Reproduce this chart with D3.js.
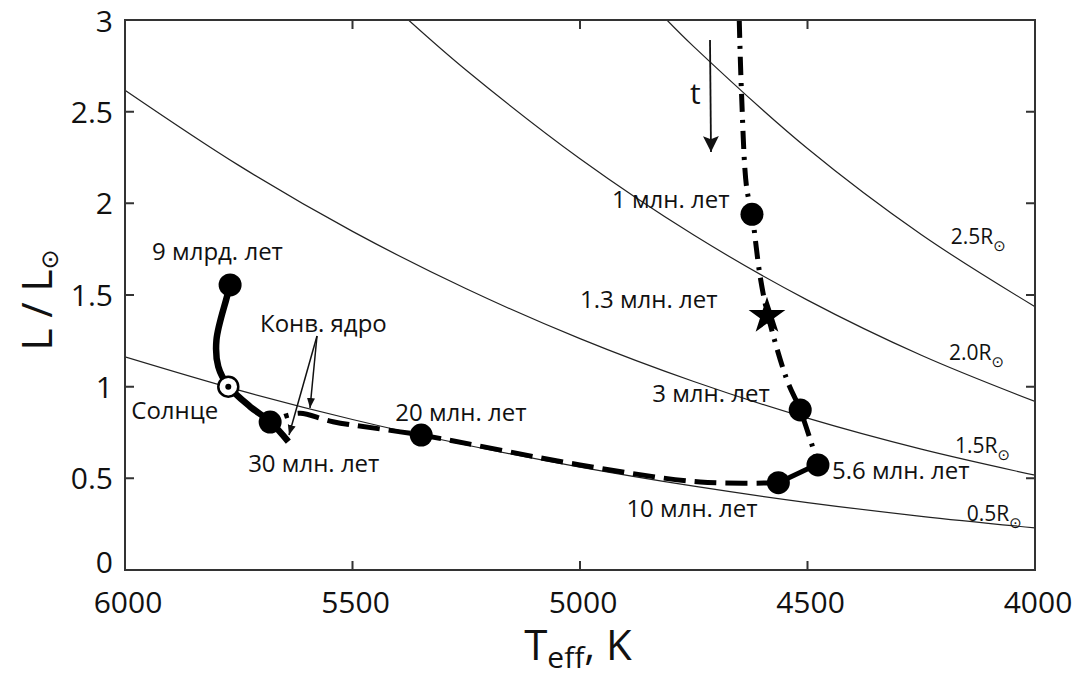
<!DOCTYPE html>
<html>
<head>
<meta charset="utf-8">
<script src="https://cdn.jsdelivr.net/npm/d3@7"></script>
<style>
  body { margin: 0; background: #fff; }
  text { font-family: "Open Sans", "DejaVu Sans", sans-serif; fill: #111; }
</style>
</head>
<body>
<div id="chart"></div>
<script>
// axis ticks
var xTicks = [6000, 5500, 5000, 4500, 4000];
var yTicks = [0, 0.5, 1, 1.5, 2, 2.5, 3];

// iso-radius lines: [Teff, L]
var radiusLabels = ["0.5R", "1.5R", "2.0R", "2.5R"];
var radiusLines = [
  [[6000,1.163],[5750,0.981],[5500,0.821],[5250,0.682],[5000,0.561],[4750,0.457],[4500,0.368],[4250,0.293],[4000,0.230]],
  [[6000,2.617],[5750,2.207],[5500,1.847],[5250,1.534],[5000,1.262],[4750,1.028],[4500,0.828],[4250,0.659],[4000,0.517]],
  [[5377,3.0],[5250,2.726],[5000,2.243],[4750,1.827],[4500,1.472],[4250,1.171],[4000,0.919]],
  [[4809,3.0],[4750,2.855],[4500,2.299],[4250,1.830],[4000,1.436]]
];
var radiusLabelPos = [[4029,0.267], [4055,0.638], [4068,1.146], [4064,1.778]];

// track pieces
var trackDashDot = [[4650,3.0],[4645,2.60],[4634,2.09],[4622,1.94],[4604,1.60],[4587,1.39],[4545,1.036],[4516,0.873],[4477,0.578]];
var trackSolidShort = [[4477,0.578],[4564,0.476]];
var trackDashed = [[4564,0.476],[4736,0.48],[5000,0.573],[5349,0.736],[5543,0.809],[5615,0.855],[5650,0.838]];
var trackSolid = [[5769,1.555],[5776,1.49],[5799,1.255],[5795,1.109],[5773,1.004],[5725,0.891],[5681,0.809],[5641,0.70]];

// marked ages
var dots = [
  {T:4622, L:1.94, label:"1 млн. лет"},
  {T:4516, L:0.873, label:"3 млн. лет"},
  {T:4477, L:0.573, label:"5.6 млн. лет"},
  {T:4564, L:0.476, label:"10 млн. лет"},
  {T:5349, L:0.736, label:"20 млн. лет"},
  {T:5681, L:0.807, label:"30 млн. лет"},
  {T:5769, L:1.555, label:"9 млрд. лет"}
];
var labelOffsets = [[-140,-6],[-148,-8],[14,14],[-152,34],[-26,-14],[-22,50],[-78,-25]];
var starPoint = {T:4589, L:1.396, label:"1.3 млн. лет"};
var sunPoint = {T:5773, L:1.0, label:"Солнце"};

var W = 1081, H = 680;
var margin = {top: 20, right: 46, bottom: 110, left: 125};
var width = W - margin.left - margin.right,
    height = H - margin.top - margin.bottom;

var svg = d3.select("#chart").append("svg")
  .attr("width", W).attr("height", H);

var g = svg.append("g")
  .attr("transform", "translate(" + margin.left + "," + margin.top + ")");

var x = d3.scaleLinear().domain([6000, 4000]).range([0, width]);
var y = d3.scaleLinear().domain([0, 3]).range([height, 0]);

svg.append("defs").append("clipPath").attr("id", "clip")
  .append("rect").attr("width", width).attr("height", height);
var defs = svg.select("defs");
defs.append("marker").attr("id", "arr")
  .attr("viewBox", "0 0 10 10").attr("refX", 10).attr("refY", 5)
  .attr("markerWidth", 10).attr("markerHeight", 10)
  .attr("markerUnits", "userSpaceOnUse")
  .attr("orient", "auto")
  .append("path").attr("d", "M0,1 L10,5 L0,9 Z").attr("fill", "#111");
defs.append("marker").attr("id", "arrBig")
  .attr("viewBox", "0 0 10 10").attr("refX", 10).attr("refY", 5)
  .attr("markerWidth", 34).attr("markerHeight", 16)
  .attr("markerUnits", "userSpaceOnUse")
  .attr("orient", "auto")
  .append("path").attr("d", "M0,0 L10,5 L0,10 L2,5 Z").attr("fill", "#111");

var line = d3.line()
  .x(function(d) { return x(d[0]); })
  .y(function(d) { return y(d[1]); })
  .curve(d3.curveCatmullRom);

var plot = g.append("g").attr("clip-path", "url(#clip)");

// iso-radius curves
plot.selectAll(".rline").data(radiusLines).enter().append("path")
  .attr("d", line)
  .attr("fill", "none").attr("stroke", "#222").attr("stroke-width", 1.2);

// tracks
plot.append("path").datum(trackDashDot).attr("d", line)
  .attr("fill", "none").attr("stroke", "#000").attr("stroke-width", 5)
  .attr("stroke-dasharray", "18,8,3,8");
plot.append("path").datum(trackSolidShort).attr("d", line)
  .attr("fill", "none").attr("stroke", "#000").attr("stroke-width", 5);
plot.append("path").datum(trackDashed).attr("d", line)
  .attr("fill", "none").attr("stroke", "#000").attr("stroke-width", 5)
  .attr("stroke-dasharray", "22,9");
plot.append("path").datum(trackSolid).attr("d", line)
  .attr("fill", "none").attr("stroke", "#000").attr("stroke-width", 6.5);

// frame and ticks
g.append("rect").attr("width", width).attr("height", height)
  .attr("fill", "none").attr("stroke", "#333").attr("stroke-width", 2);
var tl = 9;
g.selectAll(".xt").data(xTicks.slice(1, -1)).enter().append("path")
  .attr("d", function(d) { return "M" + x(d) + "," + height + "v" + (-tl) + "M" + x(d) + ",0v" + tl; })
  .attr("stroke", "#333").attr("stroke-width", 2);
g.selectAll(".yt").data(yTicks.slice(1, -1)).enter().append("path")
  .attr("d", function(d) { return "M0," + y(d) + "h" + tl + "M" + width + "," + y(d) + "h" + (-tl); })
  .attr("stroke", "#333").attr("stroke-width", 2);

g.selectAll(".xl").data(xTicks).enter().append("text")
  .attr("x", function(d) { return x(d) + 3; }).attr("y", height + 43)
  .attr("text-anchor", "middle").attr("font-size", 30)
  .text(function(d) { return d; });
g.selectAll(".yl").data(yTicks).enter().append("text")
  .attr("x", -12).attr("y", function(d) { return y(d) + (d === 0 ? 3 : d === 3 ? 12 : 11); })
  .attr("text-anchor", "end").attr("font-size", 30)
  .text(function(d) { return d; });

// axis titles
var xt = svg.append("text").attr("x", 578).attr("y", 660)
  .attr("text-anchor", "middle").attr("font-size", 42);
xt.append("tspan").text("T");
xt.append("tspan").attr("font-size", 30).attr("dy", 8).text("eff");
xt.append("tspan").attr("dy", -8).text(", K");

var yt = svg.append("text")
  .attr("transform", "translate(52,300) rotate(-90)")
  .attr("text-anchor", "middle").attr("font-size", 42);
yt.append("tspan").text("L / L");
yt.append("tspan").attr("font-size", 24).attr("dy", 6).text("⊙");

// radius labels
var rl = g.selectAll(".rl").data(radiusLabels).enter().append("text")
  .attr("x", function(d, i) { return x(radiusLabelPos[i][0]); })
  .attr("y", function(d, i) { return y(radiusLabelPos[i][1]); })
  .attr("text-anchor", "end").attr("font-size", 21);
rl.append("tspan").text(function(d) { return d; });
rl.append("tspan").attr("font-size", 15).attr("dy", 7).text("⊙");

// dots
g.selectAll(".dot").data(dots).enter().append("circle")
  .attr("cx", function(d) { return x(d.T); })
  .attr("cy", function(d) { return y(d.L); })
  .attr("r", 11.5).attr("fill", "#000");
g.selectAll(".dl").data(dots).enter().append("text")
  .attr("x", function(d, i) { return x(d.T) + labelOffsets[i][0]; })
  .attr("y", function(d, i) { return y(d.L) + labelOffsets[i][1]; })
  .attr("font-size", 24)
  .text(function(d) { return d.label; });

// star
g.append("path")
  .attr("d", d3.symbol().type(d3.symbolStar).size(420)())
  .attr("transform", "translate(" + x(starPoint.T) + "," + (y(starPoint.L) + 2) + ")")
  .attr("fill", "#000");
g.append("text").attr("x", x(starPoint.T) - 187).attr("y", y(starPoint.L) - 6)
  .attr("font-size", 24).text(starPoint.label);

// sun
g.append("circle").attr("cx", x(sunPoint.T)).attr("cy", y(sunPoint.L))
  .attr("r", 10).attr("fill", "#fff").attr("stroke", "#000").attr("stroke-width", 2.5);
g.append("circle").attr("cx", x(sunPoint.T)).attr("cy", y(sunPoint.L))
  .attr("r", 3).attr("fill", "#000");
g.append("text").attr("x", x(sunPoint.T) - 97).attr("y", y(sunPoint.L) + 32)
  .attr("font-size", 24).text(sunPoint.label);

// convective core annotation
g.append("text").attr("x", 135).attr("y", 312).attr("font-size", 24).text("Конв. ядро");
g.append("line").attr("x1", 192).attr("y1", 316).attr("x2", 164).attr("y2", 415)
  .attr("stroke", "#111").attr("stroke-width", 1.5).attr("marker-end", "url(#arr)");
g.append("line").attr("x1", 192).attr("y1", 316).attr("x2", 185).attr("y2", 388)
  .attr("stroke", "#111").attr("stroke-width", 1.5).attr("marker-end", "url(#arr)");

// time arrow
g.append("line").attr("x1", 585).attr("y1", 20).attr("x2", 586).attr("y2", 132)
  .attr("stroke", "#111").attr("stroke-width", 1.8).attr("marker-end", "url(#arrBig)");
g.append("text").attr("x", 565).attr("y", 84).attr("font-size", 30).text("t");
</script>
</body>
</html>
